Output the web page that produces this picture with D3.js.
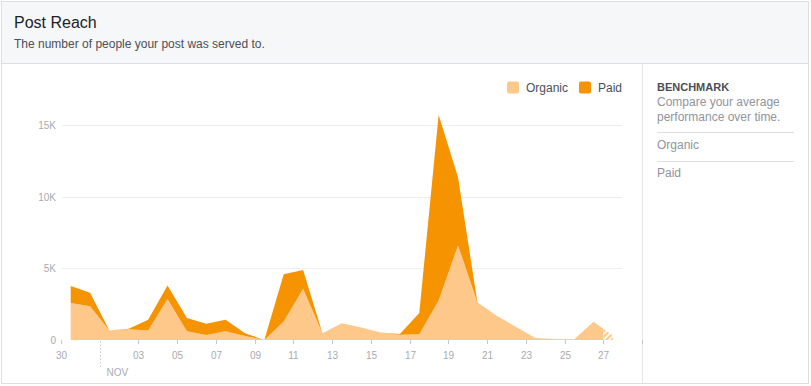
<!DOCTYPE html>
<html>
<head>
<meta charset="utf-8">
<script src="https://cdn.jsdelivr.net/npm/d3@7"></script>
<style>
	body { margin: 0; background: #fff; font-family: "Liberation Sans", Arial, sans-serif; }
	svg { display: block; }
</style>
</head>
<body>
<svg id="chart"></svg>
<script>
// days from Oct 30 to Nov 27
var days = ['2016-10-30','2016-10-31','2016-11-01','2016-11-02','2016-11-03','2016-11-04','2016-11-05',
	'2016-11-06','2016-11-07','2016-11-08','2016-11-09','2016-11-10','2016-11-11','2016-11-12',
	'2016-11-13','2016-11-14','2016-11-15','2016-11-16','2016-11-17','2016-11-18','2016-11-19',
	'2016-11-20','2016-11-21','2016-11-22','2016-11-23','2016-11-24','2016-11-25','2016-11-26','2016-11-27'];
var organic = [2580, 2350, 660, 750, 660, 2860, 610, 350, 610, 280, 0, 1290, 3570, 470,
	1170, 870, 520, 370, 400, 2750, 6600, 2630, 1700, 900, 140, 70, 50, 1280, 300];
var paid = [1180, 940, 0, 30, 750, 940, 920, 780, 800, 190, 0, 3290, 1310, 0,
	0, 0, 0, 50, 1480, 12950, 4750, 0, 0, 0, 0, 0, 0, 0, 0];
var yTicks = [0, 5000, 10000, 15000];
var yTickLabels = ['0', '5K', '10K', '15K'];
var seriesNames = ['Organic', 'Paid'];
var seriesColors = ['#fdc88a', '#f69300'];

var W = 811, H = 386;
var svg = d3.select('#chart').attr('width', W).attr('height', H);
var parse = d3.timeParse('%Y-%m-%d');

// card + header
svg.append('rect').attr('x', 1.5).attr('y', 1.5).attr('width', 807).attr('height', 382)
	.attr('fill', '#fff').attr('stroke', '#dddfe2');
svg.append('rect').attr('x', 2).attr('y', 2).attr('width', 806).attr('height', 61).attr('fill', '#f6f7f9');
svg.append('line').attr('x1', 2).attr('x2', 808).attr('y1', 63.5).attr('y2', 63.5).attr('stroke', '#dddfe2');
svg.append('text').attr('x', 14).attr('y', 28).text('Post Reach')
	.attr('font-size', 16).attr('fill', '#1d2129');
svg.append('text').attr('x', 14).attr('y', 48).text('The number of people your post was served to.')
	.attr('font-size', 12).attr('fill', '#4b4f56');

// right panel
svg.append('line').attr('x1', 642.5).attr('x2', 642.5).attr('y1', 64).attr('y2', 383).attr('stroke', '#e5e6e9');
svg.append('text').attr('x', 657).attr('y', 91).text('BENCHMARK')
	.attr('font-size', 11).attr('font-weight', 'bold').attr('fill', '#4b4f56');
svg.append('text').attr('x', 657).attr('y', 106).text('Compare your average')
	.attr('font-size', 12).attr('fill', '#90949c');
svg.append('text').attr('x', 657).attr('y', 121).text('performance over time.')
	.attr('font-size', 12).attr('fill', '#90949c');
svg.append('line').attr('x1', 657).attr('x2', 794).attr('y1', 132.5).attr('y2', 132.5).attr('stroke', '#dddfe2');
svg.append('text').attr('x', 657).attr('y', 149).text('Organic').attr('font-size', 12).attr('fill', '#90949c');
svg.append('line').attr('x1', 657).attr('x2', 794).attr('y1', 161.5).attr('y2', 161.5).attr('stroke', '#dddfe2');
svg.append('text').attr('x', 657).attr('y', 177).text('Paid').attr('font-size', 12).attr('fill', '#90949c');

// scales
var x = d3.scaleTime().domain([parse('2016-10-30'), parse('2016-11-29')]).range([61, 642]);
var y = d3.scaleLinear().domain([0, 15000]).range([340, 125]);

// gridlines
svg.append('g').selectAll('line').data(yTicks.slice(1)).enter().append('line')
	.attr('x1', 62).attr('x2', 622)
	.attr('y1', function(d) { return Math.round(y(d)) + 0.5; })
	.attr('y2', function(d) { return Math.round(y(d)) + 0.5; })
	.attr('stroke', '#eceef1');

// y labels
svg.append('g').selectAll('text').data(yTicks).enter().append('text')
	.attr('x', 56).attr('y', function(d) { return y(d) + 4; })
	.attr('text-anchor', 'end').attr('font-size', 10).attr('fill', '#a7abb1')
	.text(function(d, i) { return yTickLabels[i]; });

// stacked areas, points at midday
var rows = days.map(function(d, i) {
	return { date: d3.timeHour.offset(parse(d), 12), Organic: organic[i], Paid: paid[i] };
});
var stacked = d3.stack().keys(seriesNames)(rows);
var area = d3.area()
	.x(function(d) { return x(d.data.date); })
	.y0(function(d) { return y(d[0]); })
	.y1(function(d) { return y(d[1]); });

var defs = svg.append('defs');
var pat = defs.append('pattern').attr('id', 'partial').attr('patternUnits', 'userSpaceOnUse')
	.attr('width', 4).attr('height', 4).attr('patternTransform', 'rotate(45)');
pat.append('rect').attr('width', 4).attr('height', 4).attr('fill', '#fff');
pat.append('rect').attr('width', 2.2).attr('height', 4).attr('fill', seriesColors[0]);

var lastX = x(rows[rows.length - 1].date);
var cutX = (x(rows[rows.length - 2].date) + lastX) / 2;
defs.append('clipPath').attr('id', 'solid').append('rect')
	.attr('x', 0).attr('y', 0).attr('width', cutX).attr('height', H);
defs.append('clipPath').attr('id', 'dashed').append('rect')
	.attr('x', cutX).attr('y', 0).attr('width', W - cutX).attr('height', H);

svg.append('g').attr('clip-path', 'url(#solid)').selectAll('path').data(stacked).enter().append('path')
	.attr('d', area)
	.attr('fill', function(d, i) { return seriesColors[i]; });
svg.append('g').attr('clip-path', 'url(#dashed)').selectAll('path').data(stacked).enter().append('path')
	.attr('d', area)
	.attr('fill', 'url(#partial)');

// x ticks
var tickDays = d3.timeDay.every(2).range(parse('2016-10-30'), parse('2016-11-30'));
tickDays = d3.range(0, 31, 2).map(function(k) { return d3.timeDay.offset(parse('2016-10-30'), k); });
var xt = svg.append('g');
tickDays.forEach(function(d) {
	var px = Math.round(x(d)) + 0.5;
	var isNov1 = d.getMonth() == 10 && d.getDate() == 1;
	if(isNov1)
	{
		xt.append('line').attr('x1', px).attr('x2', px).attr('y1', 341).attr('y2', 367)
			.attr('stroke', '#c4c7cc').attr('stroke-dasharray', '1.5,2');
		xt.append('text').attr('x', px + 6).attr('y', 376).text('NOV')
			.attr('font-size', 10).attr('fill', '#a7abb1');
		return;
	}
	xt.append('line').attr('x1', px).attr('x2', px).attr('y1', 340).attr('y2', 344)
		.attr('stroke', '#c4c7cc');
	if(d < parse('2016-11-29'))
	{
		xt.append('text').attr('x', px).attr('y', 359).attr('text-anchor', 'middle')
			.attr('font-size', 10).attr('fill', '#a7abb1')
			.text(d3.timeFormat('%d')(d));
	}
});

// legend
var lg = svg.append('g');
var legX = [507, 579];
seriesNames.forEach(function(name, i) {
	lg.append('rect').attr('x', legX[i]).attr('y', 81.5).attr('width', 12).attr('height', 12)
		.attr('rx', 2).attr('fill', seriesColors[i]);
	lg.append('text').attr('x', legX[i] + 19).attr('y', 92).text(name)
		.attr('font-size', 12).attr('fill', '#4b4f56');
});
</script>
</body>
</html>
